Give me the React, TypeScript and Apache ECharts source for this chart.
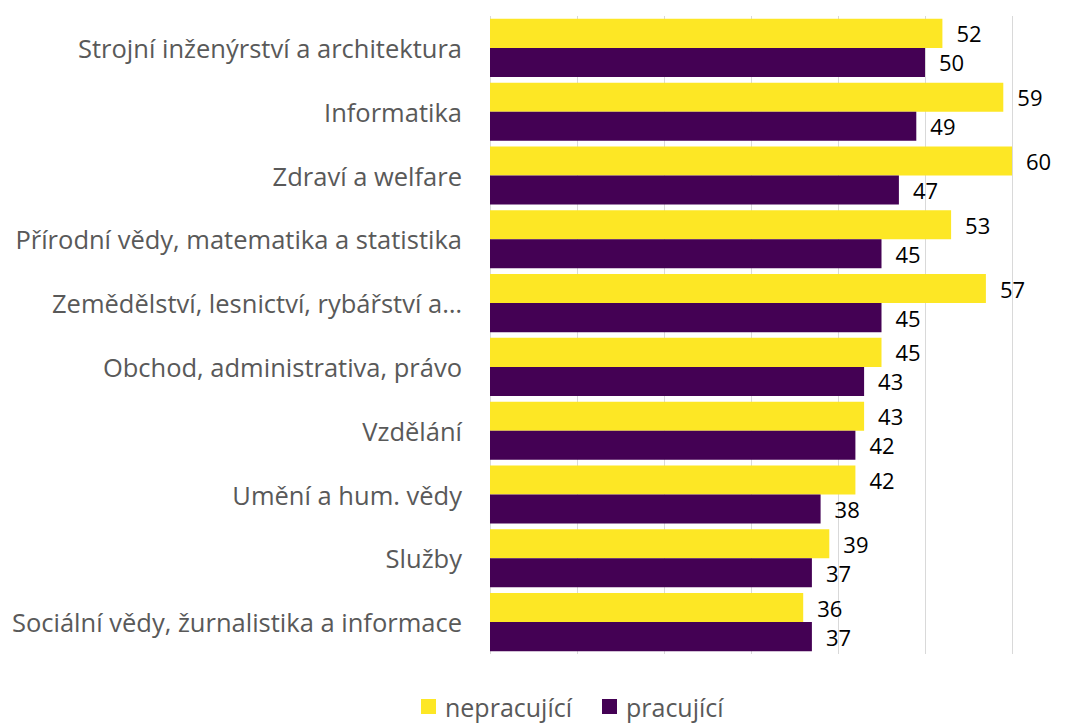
import React, { useEffect, useRef } from "react";
import * as echarts from "echarts";

const categories = [
  "Strojní inženýrství a architektura",
  "Informatika",
  "Zdraví a welfare",
  "Přírodní vědy, matematika a statistika",
  "Zemědělství, lesnictví, rybářství a…",
  "Obchod, administrativa, právo",
  "Vzdělání",
  "Umění a hum. vědy",
  "Služby",
  "Sociální vědy, žurnalistika a informace",
];
const nepracujici = [52, 59, 60, 53, 57, 45, 43, 42, 39, 36];
const pracujici = [50, 49, 47, 45, 45, 43, 42, 38, 37, 37];
const seriesNames = ["nepracující", "pracující"];

const FONT = "'Open Sans', 'Noto Sans', sans-serif";

export default function App() {
  const ref = useRef<HTMLDivElement>(null);
  useEffect(() => {
    if (!ref.current) return;
    const chart = echarts.init(ref.current, null, { renderer: "svg" });
    const label = {
      show: true,
      position: "right" as const,
      distance: 14,
      color: "#000",
      fontSize: 22,
      fontFamily: FONT,
    };
    chart.setOption({
      animation: false,
      textStyle: { fontFamily: FONT },
      grid: { left: 490, right: 72, top: 16, bottom: 72, containLabel: false },
      legend: {
        top: 694,
        left: 421,
        itemWidth: 15,
        itemHeight: 15,
        itemGap: 30,
        icon: "rect",
        padding: 0,
        textStyle: { fontSize: 25, color: "#595959", fontFamily: FONT, padding: [0, 0, 0, 4] },
        data: seriesNames,
      },
      xAxis: {
        type: "value",
        min: 0,
        max: 60,
        interval: 10,
        axisLabel: { show: false },
        axisLine: { show: false },
        axisTick: { show: false },
        splitLine: { show: true, lineStyle: { color: "#d9d9d9", width: 1 } },
      },
      yAxis: {
        type: "category",
        inverse: true,
        data: categories,
        axisLine: { show: false },
        axisTick: { show: false },
        axisLabel: {
          fontSize: 25.5,
          color: "#595959",
          margin: 28,
          fontFamily: FONT,
        },
      },
      series: [
        {
          name: seriesNames[0],
          type: "bar",
          data: nepracujici,
          itemStyle: { color: "#FDE725" },
          barGap: "0%",
          barCategoryGap: "9%",
          label,
        },
        {
          name: seriesNames[1],
          type: "bar",
          data: pracujici,
          itemStyle: { color: "#440154" },
          barGap: "0%",
          barCategoryGap: "9%",
          label,
        },
      ],
    });
    return () => chart.dispose();
  }, []);
  return (
    <div
      ref={ref}
      style={{ position: "fixed", left: 0, top: 0, width: 1084, height: 726, background: "#fff" }}
    />
  );
}
